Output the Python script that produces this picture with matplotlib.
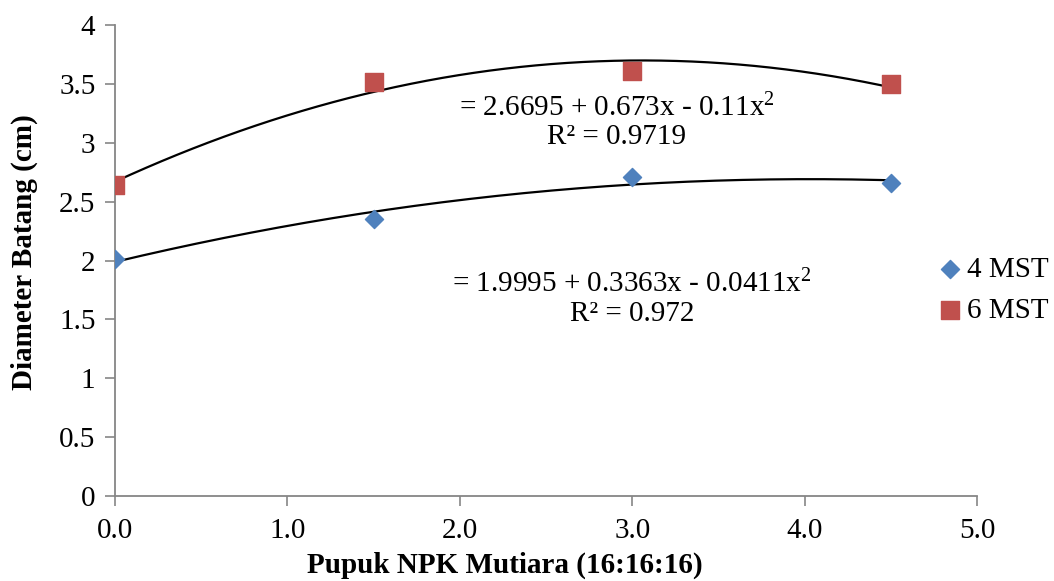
import numpy as np
import matplotlib.pyplot as plt

plt.rcParams['font.family'] = ['Liberation Serif', 'DejaVu Serif']
plt.rcParams['mathtext.fontset'] = 'custom'
plt.rcParams['mathtext.rm'] = 'Liberation Serif'

dosis = [0.0, 1.5, 3.0, 4.5]
mst4 = [2.01, 2.35, 2.71, 2.66]
mst6 = [2.64, 3.52, 3.61, 3.50]
xticks = [0.0, 1.0, 2.0, 3.0, 4.0, 5.0]
yticks = [0, 0.5, 1, 1.5, 2, 2.5, 3, 3.5, 4]

eq4 = '= 1.9995 + 0.3363x - 0.0411x$\\mathregular{^2}$\nR² = 0.972'
eq6 = '= 2.6695 + 0.673x - 0.11x$\\mathregular{^2}$\nR² = 0.9719'

fig = plt.figure(figsize=(10.54, 5.81), dpi=100)
ax = fig.add_axes([0.109, 0.146, 0.818, 0.811])

ax.scatter(dosis, mst4, marker='D', s=85, color='#4F81BD', label='4 MST', zorder=3)
ax.scatter(dosis, mst6, marker='s', s=185, color='#C0504D', label='6 MST', zorder=3)

# garis trend polinomial orde 2
xs = np.linspace(dosis[0], dosis[-1], 200)
for y in (mst4, mst6):
    c = np.polyfit(dosis, y, 2)
    ax.plot(xs, np.polyval(c, xs), color='black', lw=1.6, zorder=2)

ax.text(2.91, 3.18, eq6, ha='center', va='center', fontsize=21, linespacing=1.1)
ax.text(3.0, 1.68, eq4, ha='center', va='center', fontsize=21, linespacing=1.1)

ax.set_xlim(0, 5)
ax.set_ylim(0, 4)
ax.set_xticks(xticks)
ax.set_xticklabels([f'{v:.1f}' for v in xticks])
ax.set_yticks(yticks)
ax.set_yticklabels([f'{v:g}' for v in yticks])

for s in ('top', 'right'):
    ax.spines[s].set_visible(False)
for s in ('left', 'bottom'):
    ax.spines[s].set_color('#868686')
    ax.spines[s].set_linewidth(1.3)
ax.tick_params(direction='out', length=7, width=1.2, color='#868686', labelsize=21, pad=7)
ax.tick_params(axis='x', pad=9)

ax.set_xlabel('Pupuk NPK Mutiara (16:16:16)', fontsize=21, fontweight='bold')
ax.set_ylabel('Diameter Batang (cm)', fontsize=21, fontweight='bold')
ax.xaxis.set_label_coords(0.452, -0.117)
ax.yaxis.set_label_coords(-0.089, 0.518)

ax.legend(loc='center left', bbox_to_anchor=(0.955, 0.437), frameon=False, fontsize=21,
          handletextpad=0.2, labelspacing=0.5, borderaxespad=0, borderpad=0,
          handlelength=0.8)

fig.savefig('out.png', dpi=100)
